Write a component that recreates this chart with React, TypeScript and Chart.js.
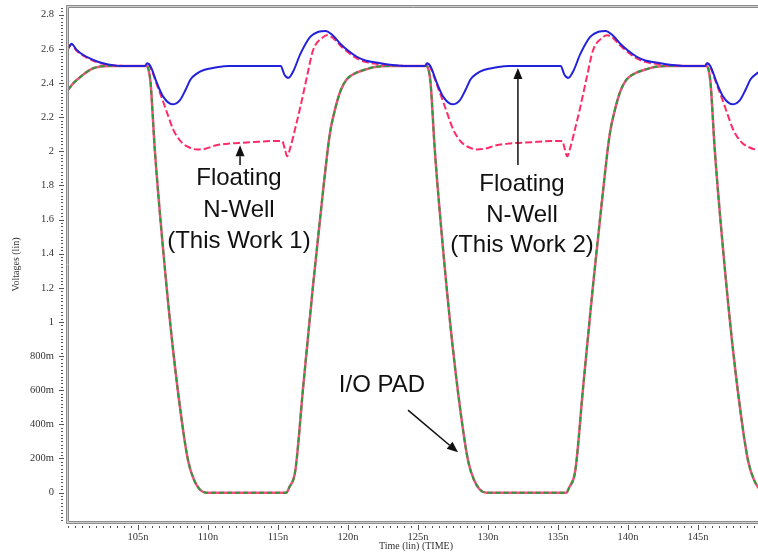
import { useEffect, useRef } from "react";
import { Chart, registerables } from "chart.js";

Chart.register(...registerables);

// ---- data (time in ns, voltage in V) ----
const blueT = [
  100, 100.25, 100.6, 100.9, 101.8, 102.5, 103.3, 104, 105.5, 105.65, 105.9, 106.35, 106.8, 107.45, 108, 108.4, 108.75,
  109.2, 109.7, 110.5, 111.5, 115.2, 115.45, 115.75, 116.1, 116.6, 117.3, 117.9, 118.4, 118.9, 119.45, 120, 120.6, 121.3,
  122, 123, 124, 125.5, 125.65, 125.9, 126.35, 126.8, 127.45, 128, 128.4, 128.75, 129.2, 129.7, 130.5, 131.5, 135.2,
  135.45, 135.75, 136.1, 136.6, 137.3, 137.9, 138.4, 138.9, 139.45, 140, 140.6, 141.3, 142, 143, 144, 145.5, 145.65,
  145.9, 146.35, 146.8, 147.45, 148, 148.4, 148.75, 149.2, 149.7,
];
const blueV = [
  2.6, 2.63, 2.595, 2.574, 2.535, 2.515, 2.503, 2.5, 2.5, 2.515, 2.496, 2.4, 2.32, 2.275, 2.3, 2.36, 2.42, 2.455, 2.476,
  2.49, 2.5, 2.5, 2.45, 2.43, 2.47, 2.57, 2.67, 2.7, 2.705, 2.68, 2.63, 2.59, 2.555, 2.53, 2.52, 2.506, 2.5, 2.5, 2.515,
  2.496, 2.4, 2.32, 2.275, 2.3, 2.36, 2.42, 2.455, 2.476, 2.49, 2.5, 2.5, 2.45, 2.43, 2.47, 2.57, 2.67, 2.7, 2.705, 2.68,
  2.63, 2.59, 2.555, 2.53, 2.52, 2.506, 2.5, 2.5, 2.515, 2.496, 2.4, 2.32, 2.275, 2.3, 2.36, 2.42, 2.455, 2.476,
];

const redT = [
  100, 100.25, 100.6, 100.9, 101.8, 102.5, 103.3, 104, 105.5, 105.7, 105.95, 106.35, 106.8, 107.1, 107.5, 107.8, 108.2,
  108.6, 109.2, 109.8, 110.6, 111.5, 112.5, 113.5, 114.5, 115.3, 115.5, 115.65, 115.9, 116.25, 116.6, 117.07, 117.5,
  118.25, 118.5, 118.9, 119.45, 120, 120.6, 121.3, 122, 123, 124, 125.5, 125.7, 125.95, 126.35, 126.8, 127.1, 127.5,
  127.8, 128.2, 128.6, 129.2, 129.8, 130.6, 131.5, 132.5, 133.5, 134.5, 135.3, 135.5, 135.65, 135.9, 136.25, 136.6,
  137.07, 137.5, 138.25, 138.5, 138.9, 139.45, 140, 140.6, 141.3, 142, 143, 144, 145.5, 145.7, 145.95, 146.35, 146.8,
  147.1, 147.5, 147.8, 148.2, 148.6, 149.2, 149.8,
];
const redV = [
  2.6, 2.625, 2.59, 2.57, 2.53, 2.512, 2.502, 2.5, 2.5, 2.515, 2.48, 2.39, 2.29, 2.22, 2.13, 2.085, 2.045, 2.025, 2.01,
  2.015, 2.035, 2.045, 2.05, 2.055, 2.06, 2.06, 2.01, 1.97, 2.027, 2.14, 2.26, 2.437, 2.59, 2.67, 2.68, 2.665, 2.62, 2.58,
  2.545, 2.522, 2.512, 2.504, 2.5, 2.5, 2.515, 2.48, 2.39, 2.29, 2.22, 2.13, 2.085, 2.045, 2.025, 2.01, 2.015, 2.035,
  2.045, 2.05, 2.055, 2.06, 2.06, 2.01, 1.97, 2.027, 2.14, 2.26, 2.437, 2.59, 2.67, 2.68, 2.665, 2.62, 2.58, 2.545,
  2.522, 2.512, 2.504, 2.5, 2.5, 2.515, 2.48, 2.39, 2.29, 2.22, 2.13, 2.085, 2.045, 2.025, 2.01, 2.015,
];

const padT = [
  100, 100.4, 100.9, 101.8, 103, 105.6, 105.75, 105.9, 106.2, 106.8, 107.5, 108.25, 108.6, 109, 109.4, 109.9, 115.6,
  115.8, 116.24, 116.8, 117.5, 118.25, 118.7, 119, 119.45, 119.9, 120.6, 121.3, 122, 123, 125.6, 125.75, 125.9, 126.2,
  126.8, 127.5, 128.25, 128.6, 129, 129.4, 129.9, 135.6, 135.8, 136.24, 136.8, 137.5, 138.25, 138.7, 139, 139.45, 139.9,
  140.6, 141.3, 142, 143, 145.6, 145.75, 145.9, 146.2, 146.8, 147.5, 148.25, 148.6, 149, 149.4,
];
const padV = [
  2.36, 2.4, 2.437, 2.486, 2.5, 2.5, 2.48, 2.4, 2.01, 1.42, 0.84, 0.35, 0.18, 0.075, 0.02, 0, 0, 0.03, 0.13, 0.62, 1.21,
  1.79, 2.1, 2.22, 2.35, 2.42, 2.46, 2.48, 2.495, 2.5, 2.5, 2.48, 2.4, 2.01, 1.42, 0.84, 0.35, 0.18, 0.075, 0.02, 0, 0,
  0.03, 0.13, 0.62, 1.21, 1.79, 2.1, 2.22, 2.35, 2.42, 2.46, 2.48, 2.495, 2.5, 2.5, 2.48, 2.4, 2.01, 1.42, 0.84, 0.35,
  0.18, 0.075, 0.02,
];

const xTicks = [105, 110, 115, 120, 125, 130, 135, 140, 145];
const yTicks = [0, 0.2, 0.4, 0.6, 0.8, 1, 1.2, 1.4, 1.6, 1.8, 2, 2.2, 2.4, 2.6, 2.8];

const X_MIN = 100;
const X_MAX = 149.29;
const Y_MIN = -0.172;
const Y_MAX = 2.845;

const annotations = [
  { lines: ["Floating", "N-Well", "(This Work 1)"], t: 112.21, v: [1.843, 1.655, 1.474] },
  { lines: ["Floating", "N-Well", "(This Work 2)"], t: 132.43, v: [1.808, 1.627, 1.451] },
  { lines: ["I/O PAD"], t: 122.43, v: [0.631] },
];
const arrows = [
  { t0: 112.29, v0: 1.92, t1: 112.29, v1: 2.035 },
  { t0: 132.14, v0: 1.92, t1: 132.14, v1: 2.488 },
  { t0: 124.29, v0: 0.483, t1: 127.86, v1: 0.236 },
];

const zip = (t: number[], v: number[]) => t.map((x, i) => ({ x, y: v[i] }));

function fmtY(v: number): string {
  if (Math.abs(v) < 1e-9) return "0";
  if (v < 0.999) return Math.round(v * 1000) + "m";
  return String(+v.toFixed(1));
}

const SERIF = '"Liberation Serif", "Times New Roman", serif';
const SANS = '"Liberation Sans", Arial, sans-serif';

const decorPlugin = {
  id: "decor",
  afterDraw(chart: any) {
    const ctx = chart.ctx as CanvasRenderingContext2D;
    const ca = chart.chartArea;
    const xs = chart.scales.x;
    const ys = chart.scales.y;
    ctx.save();

    // plot frame (double grey lines)
    const frame = (off: number, color: string) => {
      ctx.strokeStyle = color;
      ctx.lineWidth = 1;
      ctx.beginPath();
      ctx.moveTo(ca.left - 1.5 + off, ca.bottom + 1.5 - off);
      ctx.lineTo(ca.left - 1.5 + off, ca.top - 1.5 + off);
      ctx.lineTo(ca.right + 5, ca.top - 1.5 + off);
      ctx.moveTo(ca.left - 1.5 + off, ca.bottom + 1.5 - off);
      ctx.lineTo(ca.right + 5, ca.bottom + 1.5 - off);
      ctx.stroke();
    };
    frame(0, "#8a8a8a");
    frame(1, "#cfcfcf");
    frame(2, "#8a8a8a");

    // y ticks
    ctx.strokeStyle = "#555";
    ctx.lineWidth = 1;
    ctx.beginPath();
    for (const v of yTicks) {
      const y = Math.round(ys.getPixelForValue(v)) + 0.5;
      ctx.moveTo(59, y);
      ctx.lineTo(64, y);
    }
    for (let k = -8; k <= 142; k++) {
      const y = Math.round(ys.getPixelForValue(k * 0.02)) + 0.5;
      ctx.moveTo(61, y);
      ctx.lineTo(63, y);
    }
    ctx.stroke();

    // x ticks
    ctx.beginPath();
    for (const t of xTicks) {
      const x = Math.round(xs.getPixelForValue(t)) + 0.5;
      ctx.moveTo(x, ca.bottom + 3);
      ctx.lineTo(x, ca.bottom + 8);
    }
    for (let k = 0; k <= 99; k++) {
      const x = Math.round(xs.getPixelForValue(100 + k * 0.5)) + 0.5;
      ctx.moveTo(x, ca.bottom + 4);
      ctx.lineTo(x, ca.bottom + 6);
    }
    ctx.stroke();

    // axis titles
    ctx.fillStyle = "#333";
    ctx.font = `10px ${SERIF}`;
    ctx.textAlign = "center";
    ctx.textBaseline = "middle";
    ctx.fillText("Time (lin) (TIME)", (ca.left + ca.right) / 2 + 3, 546);
    ctx.save();
    ctx.translate(16, (ca.top + ca.bottom) / 2);
    ctx.rotate(-Math.PI / 2);
    ctx.fillText("Voltages (lin)", 0, 0);
    ctx.restore();

    // annotations
    ctx.fillStyle = "#111";
    ctx.font = `24px ${SANS}`;
    for (const a of annotations) {
      a.lines.forEach((s, i) => {
        ctx.fillText(s, xs.getPixelForValue(a.t), ys.getPixelForValue(a.v[i]));
      });
    }
    ctx.strokeStyle = "#111";
    ctx.lineWidth = 1.5;
    for (const a of arrows) {
      const x0 = xs.getPixelForValue(a.t0);
      const y0 = ys.getPixelForValue(a.v0);
      const x1 = xs.getPixelForValue(a.t1);
      const y1 = ys.getPixelForValue(a.v1);
      const ang = Math.atan2(y1 - y0, x1 - x0);
      const hl = 11;
      const hw = 4.5;
      const bx = x1 - hl * Math.cos(ang);
      const by = y1 - hl * Math.sin(ang);
      ctx.beginPath();
      ctx.moveTo(x0, y0);
      ctx.lineTo(bx, by);
      ctx.stroke();
      ctx.beginPath();
      ctx.moveTo(x1, y1);
      ctx.lineTo(bx + hw * Math.sin(ang), by - hw * Math.cos(ang));
      ctx.lineTo(bx - hw * Math.sin(ang), by + hw * Math.cos(ang));
      ctx.closePath();
      ctx.fill();
    }
    ctx.restore();
  },
};

const zeroPad = (s: any) => {
  s.paddingTop = 0;
  s.paddingBottom = 0;
  s.paddingLeft = 0;
  s.paddingRight = 0;
};

export default function App() {
  const ref = useRef<HTMLCanvasElement | null>(null);
  useEffect(() => {
    document.body.style.margin = "0";
    const canvas = ref.current;
    if (!canvas) return;
    const chart = new Chart(canvas, {
      type: "line",
      data: {
        datasets: [
          {
            label: "Floating N-Well (This Work 2)",
            data: zip(blueT, blueV),
            borderColor: "#2222dd",
            borderWidth: 2,
            pointRadius: 0,
            cubicInterpolationMode: "monotone",
          },
          {
            label: "Floating N-Well (This Work 1)",
            data: zip(redT, redV),
            borderColor: "#ff2a68",
            borderWidth: 2,
            borderDash: [7, 3],
            pointRadius: 0,
            cubicInterpolationMode: "monotone",
          },
          {
            label: "I/O PAD (green)",
            data: zip(padT, padV),
            borderColor: "#2e9a3a",
            borderWidth: 2,
            borderDash: [5, 3],
            pointRadius: 0,
            cubicInterpolationMode: "monotone",
          },
          {
            label: "I/O PAD",
            data: zip(padT, padV),
            borderColor: "#f0507f",
            borderWidth: 2.5,
            pointRadius: 0,
            cubicInterpolationMode: "monotone",
          },
        ],
      } as any,
      options: {
        animation: false,
        responsive: false,
        events: [],
        layout: { padding: { top: 7, right: 0, bottom: 0, left: 0 } },
        plugins: { legend: { display: false }, tooltip: { enabled: false } },
        scales: {
          x: {
            type: "linear",
            min: X_MIN,
            max: X_MAX,
            afterBuildTicks: (s: any) => {
              s.ticks = xTicks.map((value) => ({ value }));
            },
            afterFit: (s: any) => {
              s.height = 31;
              zeroPad(s);
            },
            grid: { display: false, drawTicks: false },
            border: { display: false },
            ticks: {
              padding: 9,
              autoSkip: false,
              maxRotation: 0,
              color: "#333",
              font: { family: SERIF, size: 10.5 },
              callback: (v: any) => v + "n",
            },
          },
          y: {
            type: "linear",
            min: Y_MIN,
            max: Y_MAX,
            afterBuildTicks: (s: any) => {
              s.ticks = yTicks.map((value) => ({ value }));
            },
            afterFit: (s: any) => {
              s.width = 68;
              zeroPad(s);
            },
            grid: { display: false, drawTicks: false },
            border: { display: false },
            ticks: {
              padding: 14,
              autoSkip: false,
              color: "#333",
              font: { family: SERIF, size: 10.5 },
              callback: (v: any) => fmtY(Number(v)),
            },
          },
        },
      } as any,
      plugins: [decorPlugin],
    });
    return () => chart.destroy();
  }, []);
  return <canvas ref={ref} width={758} height={553} style={{ display: "block" }} />;
}
